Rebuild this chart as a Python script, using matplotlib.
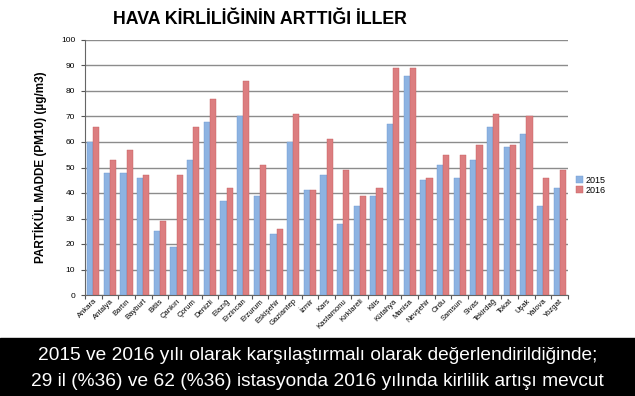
import matplotlib
matplotlib.use("Agg")
import matplotlib.pyplot as plt
import numpy as np
from matplotlib.patches import Rectangle

plt.rcParams['font.family'] = ['Liberation Sans', 'DejaVu Sans']

cities = ["Ankara", "Antalya", "Bartın", "Bayburt", "Bitlis", "Çankırı", "Çorum", "Denizli",
          "Elazığ", "Erzincan", "Erzurum", "Eskişehir", "Gaziantep", "İzmir", "Kars",
          "Kastamonu", "Kırklareli", "Kilis", "Kütahya", "Manisa", "Nevşehir", "Ordu",
          "Samsun", "Sivas", "Tekirdağ", "Tokat", "Uşak", "Yalova", "Yozgat"]
v2015 = [60, 48, 48, 46, 25, 19, 53, 68, 37, 70, 39, 24, 60, 41, 47, 28, 35, 39, 67, 86,
         45, 51, 46, 53, 66, 58, 63, 35, 42]
v2016 = [66, 53, 57, 47, 29, 47, 66, 77, 42, 84, 51, 26, 71, 41, 61, 49, 39, 42, 89, 89,
         46, 55, 55, 59, 71, 59, 70, 46, 49]
yticks = list(range(0, 101, 10))

fig = plt.figure(figsize=(6.35, 3.96), dpi=100)
ax = fig.add_axes([85/635, 1-295/396, (568-85)/635, (295-40)/396])

x = np.arange(len(cities))
w = 0.37
ax.bar(x - w/2, v2015, w, color='#8db3e2', edgecolor='#6e97cf', linewidth=0.3, label='2015', zorder=3)
ax.bar(x + w/2, v2016, w, color='#dc7e80', edgecolor='#c45c5e', linewidth=0.3, label='2016', zorder=3)

ax.set_xlim(-0.5, len(cities) - 0.5)
ax.set_ylim(0, 100)
ax.set_yticks(yticks)
ax.set_yticklabels([str(t) for t in yticks], fontsize=6)
ax.yaxis.grid(True, color='#8c8c8c', linewidth=1.0, zorder=0)
ax.set_axisbelow(True)
ax.set_xticks(np.arange(len(cities) + 1) - 0.5, minor=False)
ax.set_xticklabels([])
ax.set_xticks(x, minor=True)
ax.set_xticklabels(cities, minor=True, rotation=45, ha='right', rotation_mode='anchor', fontsize=5.5)
ax.tick_params(axis='x', which='minor', length=0, pad=2)
ax.tick_params(axis='x', which='major', length=3, color='#555555')
ax.tick_params(axis='y', length=3, color='#555555', pad=4)
for s in ['top', 'right']:
    ax.spines[s].set_visible(False)
ax.spines['left'].set_color('#666666')
ax.spines['bottom'].set_color('#666666')

ax.set_ylabel('PARTİKÜL MADDE (PM10) (µg/m3)', fontsize=8.5, fontweight='bold', labelpad=10)

fig.text(260/635, 1-20/396, 'HAVA KİRLİLİĞİNİN ARTTIĞI İLLER', ha='center', va='center',
         fontsize=12.8, fontweight='bold')

ax.legend(loc='center left', bbox_to_anchor=(1.0, 0.43), frameon=False, fontsize=6.5,
          handlelength=0.8, handleheight=0.8, handletextpad=0.2, labelspacing=0.1)

fig.patches.append(Rectangle((0, 0), 1, 58/396, transform=fig.transFigure, color='black', zorder=0))
fig.text(0.5, 1-355/396, '2015 ve 2016 yılı olarak karşılaştırmalı olarak değerlendirildiğinde;',
         ha='center', va='center', color='white', fontsize=13.8)
fig.text(0.5, 1-381/396, '29 il (%36) ve 62 (%36) istasyonda 2016 yılında kirlilik artışı mevcut',
         ha='center', va='center', color='white', fontsize=13.8)

fig.savefig('out.png', dpi=100)
